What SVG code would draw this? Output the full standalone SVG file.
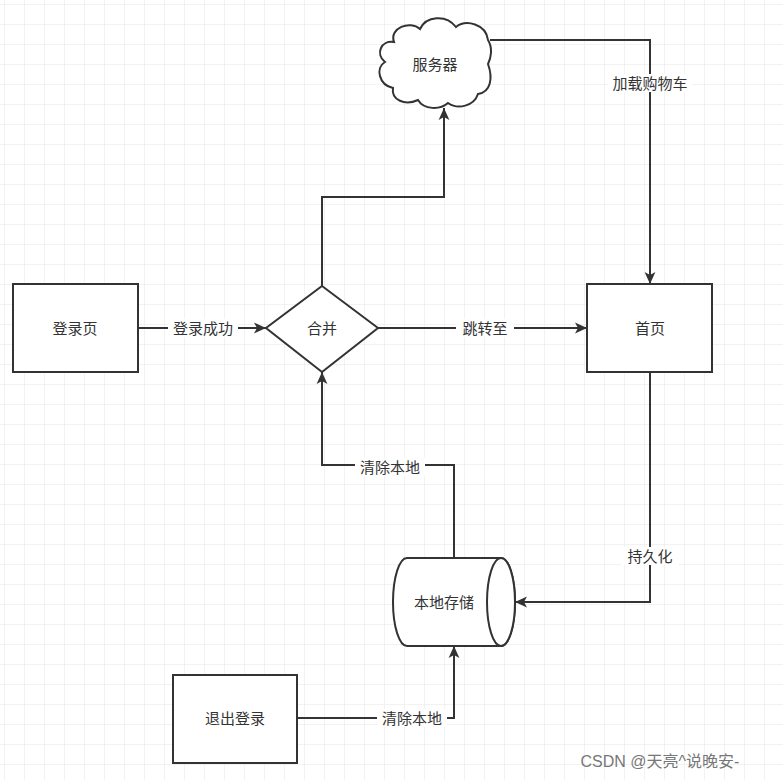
<svg xmlns="http://www.w3.org/2000/svg" width="783" height="780" viewBox="0 0 783 780">
<defs>
<pattern id="grid" width="20" height="20" patternUnits="userSpaceOnUse" x="4" y="4">
<path d="M20 0H0V20" fill="none" stroke="#e6e6e6" stroke-width="1"/>
</pattern>
<marker id="a" viewBox="0 0 10 10" refX="10" refY="5" markerWidth="12" markerHeight="12" orient="auto" markerUnits="userSpaceOnUse">
<path d="M0 0.5L10 5L0 9.5L2.5 5Z" fill="#333"/>
</marker>
</defs>
<style>
.s{fill:#fff;stroke:#333;stroke-width:2}
.t{font-family:"Liberation Sans","Noto Sans CJK SC",sans-serif;font-size:15px;fill:#333;text-anchor:middle;dominant-baseline:central}
.c{fill:none;stroke:#333;stroke-width:2;marker-end:url(#a)}
.lb{fill:#fff}
</style>
<rect width="783" height="780" fill="#fff"/>
<rect width="783" height="780" fill="url(#grid)"/>
<g id="connectors">
<path class="c" d="M138 328H266"/>
<path class="c" d="M378 328H587"/>
<path class="c" d="M322 286V197H444V108"/>
<path class="c" d="M490 40H650V284"/>
<path class="c" d="M650 372V602H515"/>
<path class="c" d="M454 558V465H322V372"/>
<path class="c" d="M297 718H454V646"/>
<rect class="lb" x="168" y="319" width="70" height="18"/><text class="t" x="203" y="328">登录成功</text>
<rect class="lb" x="456" y="319" width="58" height="18"/><text class="t" x="485" y="328">跳转至</text>
<rect class="lb" x="608" y="74" width="84" height="18"/><text class="t" x="650" y="83">加载购物车</text>
<rect class="lb" x="621" y="547" width="58" height="18"/><text class="t" x="650" y="556">持久化</text>
<rect class="lb" x="355" y="458" width="70" height="18"/><text class="t" x="390" y="467">清除本地</text>
<rect class="lb" x="377" y="709" width="70" height="18"/><text class="t" x="412" y="718">清除本地</text>
</g>
<g id="login"><rect class="s" x="13" y="284" width="125" height="88"/><text class="t" x="75" y="328">登录页</text></g>
<g id="merge"><path class="s" d="M322 286L378 328L322 372L266 328Z"/><text class="t" x="322" y="328">合并</text></g>
<g id="home"><rect class="s" x="587" y="284" width="125" height="88"/><text class="t" x="650" y="328">首页</text></g>
<g id="logout"><rect class="s" x="173" y="675" width="124" height="88"/><text class="t" x="235" y="718">退出登录</text></g>
<g id="server"><path class="s" d="M394 42C389 28 410 20 420 29C426 16 446 14 456 27C466 19 486 24 488 40C493 48 491 58 488 64C493 78 491 92 478 94C474 106 458 110 448 103C440 110 424 110 418 100C405 106 391 100 393 88C379 85 375 68 385 62C375 54 381 40 394 42Z"/><text class="t" x="435" y="64">服务器</text></g>
<g id="storage"><path class="s" d="M407 558H501A14 44 0 0 1 501 646H407A14 44 0 0 1 407 558Z"/><ellipse class="s" cx="501" cy="602" rx="14" ry="44"/><text class="t" x="444" y="602">本地存储</text></g>
<text x="660" y="767" style="font-family:'Liberation Sans','Noto Sans CJK SC',sans-serif;font-size:16px;fill:#777;text-anchor:middle">CSDN @天亮^说晚安-</text>
</svg>
